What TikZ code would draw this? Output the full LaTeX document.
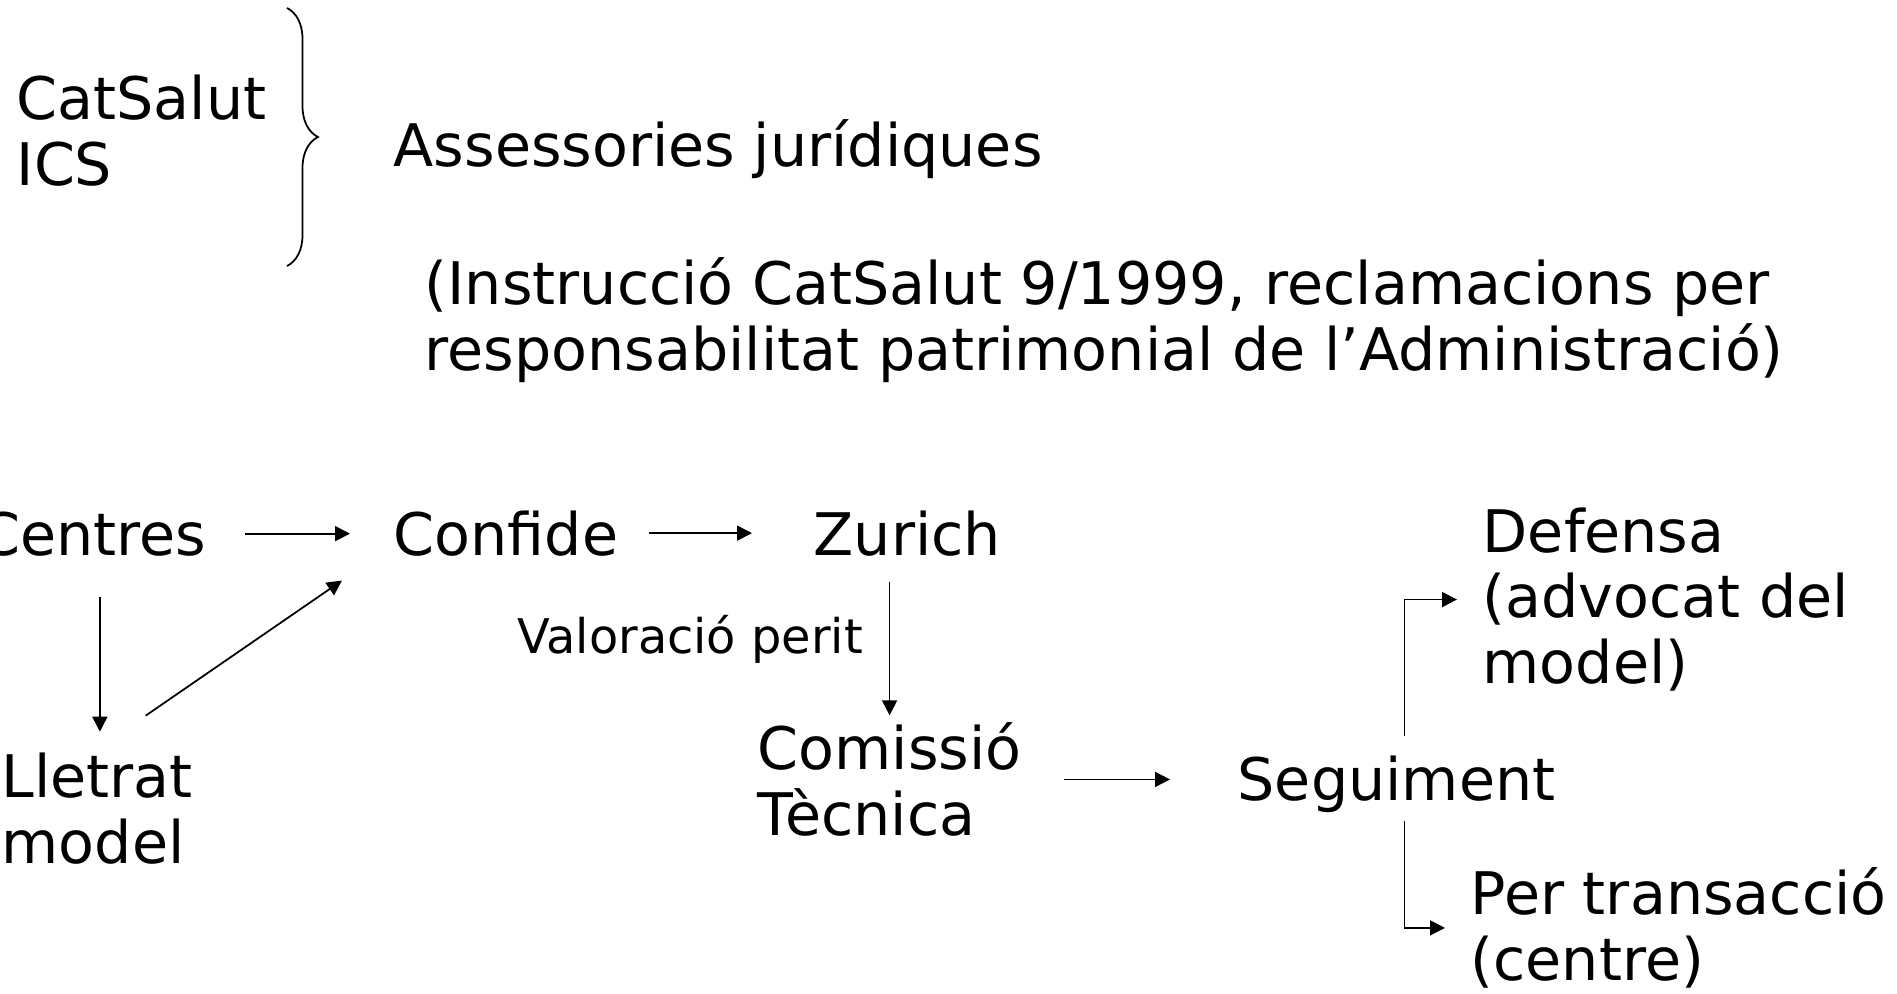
\documentclass[tikz,border=0pt]{standalone}
\usepackage{fontspec}
\setmainfont{DejaVu Sans}
\usepackage{tikz}
\usetikzlibrary{arrows.meta}
\usetikzlibrary{decorations.pathreplacing}

\begin{document}
\begin{tikzpicture}[
    every node/.style={inner sep=0pt},
    txt/.style={anchor=base west, align=left, font=\fontsize{16.7pt}{18.5pt}\selectfont},
    small/.style={font=\fontsize{13.6pt}{15pt}\selectfont},
    arr/.style={line width=0.5pt, -{Triangle[length=0.15cm,width=0.15cm]}}
  ]
    \useasboundingbox (0,0) rectangle (18.97,-9.93);
    % top part
    \node[txt] (catsalut) at (0.16,-1.85) {CatSalut\\ICS};
    \draw[line width=0.5pt, decorate, decoration={brace, amplitude=0.31cm}]
      (2.87,-0.08) -- (2.87,-2.66);
    \node[txt] (assess) at (3.93,-1.66) {Assessories jurídiques};
    \node[txt] (instr) at (4.24,-3.70) {(Instrucció CatSalut 9/1999, reclamacions per\\responsabilitat patrimonial de l’Administració)};
    % bottom part
    \node[txt, anchor=base east] (centres) at (2.07,-5.55) {Centres};
    \node[txt] (confide) at (3.93,-5.55) {Confide};
    \node[txt] (zurich) at (8.13,-5.55) {Zurich};
    \node[txt] (lletrat) at (0.01,-8.63) {Lletrat\\model};
    \node[txt] (comissio) at (7.57,-8.35) {Comissió\\Tècnica};
    \node[txt] (seguiment) at (12.37,-8.00) {Seguiment};
    \node[txt] (defensa) at (14.82,-6.83) {Defensa\\(advocat del\\model)};
    \node[txt] (pertrans) at (14.70,-9.80) {Per transacció\\(centre)};

    \draw[arr, shorten <=0.38cm, shorten >=0.43cm] (centres.east) -- (centres.east -| confide.west);
    \draw[arr, shorten <=0.30cm, shorten >=0.61cm] (confide.east) -- (confide.east -| zurich.west);
    \draw[arr, shorten <=0.40cm, shorten >=0.21cm] ([xshift=0.07cm]centres.south) -- ([xshift=0.07cm]centres.south |- lletrat.north);
    \draw[arr] ([xshift=-0.48cm,yshift=0.37cm]lletrat.north east) -- ([xshift=-0.51cm,yshift=-0.24cm]confide.south west);
    \draw[arr, shorten <=0.25cm, shorten >=0.07cm] (comissio.north |- zurich.south)
      -- node[left=0.26cm, small]{Valoració perit} (comissio.north);
    \draw[arr, shorten <=0.42cm, shorten >=0.67cm] (comissio.east) -- (comissio.east -| seguiment.west);
    \draw[arr, shorten <=0.19cm, shorten >=0.25cm] ([xshift=0.08cm]seguiment.north) |- (defensa.west);
    \draw[arr, shorten <=0.08cm, shorten >=0.25cm] ([xshift=0.08cm]seguiment.south) |- (pertrans.west);
\end{tikzpicture}
\end{document}
